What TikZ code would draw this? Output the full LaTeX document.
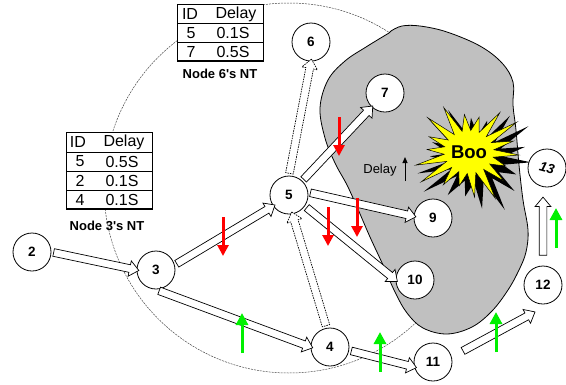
\documentclass[tikz,border=0pt]{standalone}
\usepackage{fontspec}
\setmainfont[Ligatures=TeXOff]{Liberation Sans}
\usetikzlibrary{calc,shapes.arrows,arrows.meta}
\definecolor{blobgray}{RGB}{192,192,192}
\definecolor{rarr}{RGB}{255,0,0}
\definecolor{garr}{RGB}{0,240,0}
\definecolor{booyellow}{RGB}{255,255,0}
\newcommand\barrow[3][]{\path let \p1=($(#3)-(#2)$), \n1={atan2(\y1,\x1)}, \n2={veclen(\x1,\y1)} in node[blockarr,#1,minimum height=\n2,rotate=\n1] at ($(#2)!0.5!(#3)$) {};}
\begin{document}
\begin{tikzpicture}[x=1pt,y=-1pt,
  nd/.style={circle,draw,fill=white,line width=0.8pt,minimum size=38pt,inner sep=0pt,font=\fontsize{13.5}{14}\selectfont\bfseries},
  blockarr/.style={single arrow,draw,fill=white,line width=0.7pt,inner xsep=0pt,inner ysep=3.5pt,
    single arrow head extend=4pt,single arrow tip angle=80,outer sep=0pt},
  dasharr/.style={dash pattern=on 1.5pt off 1pt},
  tabtxt/.style={font=\fontsize{16}{17}\selectfont,inner sep=0pt},
  captxt/.style={font=\fontsize{13}{14}\selectfont\bfseries,inner sep=0pt},
  redarrow/.style={draw=rarr,line width=3pt,-{Triangle[width=11pt,length=11pt]}},
  greenarrow/.style={draw=garr,line width=3pt,-{Triangle[width=12pt,length=12pt]}},
  declare function={rr(\i)=(mod(\i,2)==0)*(1+0.2*sin(\i*137))+(mod(\i,2)==1)*0.5;}
]
\useasboundingbox (0,0) rectangle (566,384);
\fill[white] (0,0) rectangle (566,384);
% dashed neighbourhood circle
\draw[gray!60!black,line width=0.5pt,dash pattern=on 2pt off 1pt] (289,188) circle[radius=185];
% gray region
\draw[fill=blobgray,line width=0.8pt] plot[smooth,tension=0.6] coordinates {(391,31) (402,26) (420,26) (447,32) (480,46) (502,63) (513,82) (513,105) (516,130) (519,165) (523,200) (528,230) (526,252) (519,270) (508,290) (492,311) (472,327) (447,334) (423,328) (407,313) (395,292) (383,265) (370,237) (357,207) (347,185) (335,163) (325,138) (320,108) (328,80) (345,61) (366,47) (389,33)} -- cycle;
% tables
\draw[fill=white,line width=0.8pt] (177,4) rectangle (263,61);
\draw[line width=0.8pt] (177,23) -- (263,23) (177,42) -- (263,42);
\draw[line width=2pt] (177,61) -- (263,61);
\node[tabtxt] at (190,14) {ID};
\node[tabtxt] at (236,14) {Delay};
\node[tabtxt] at (191,33) {5};
\node[tabtxt] at (233,33) {0.1S};
\node[tabtxt] at (191,52) {7};
\node[tabtxt] at (233,52) {0.5S};
\node[captxt] at (220,74) {Node 6's NT};
\draw[fill=white,line width=0.8pt] (66,132) rectangle (152,209);
\draw[line width=0.8pt] (66,152) -- (152,152) (66,171) -- (152,171) (66,190) -- (152,190);
\draw[line width=2pt] (66,209) -- (152,209);
\node[tabtxt] at (78,142) {ID};
\node[tabtxt] at (124,142) {Delay};
\node[tabtxt] at (80,161.5) {5};
\node[tabtxt] at (122,161.5) {0.5S};
\node[tabtxt] at (80,180.5) {2};
\node[tabtxt] at (122,180.5) {0.1S};
\node[tabtxt] at (80,199.5) {4};
\node[tabtxt] at (122,199.5) {0.1S};
\node[captxt] at (107,226) {Node 3's NT};
% starburst
\coordinate (boo) at (469,152);
\fill[black] plot[samples at={0,...,35},variable=\i] ({476+1.1*rr(\i)*50*cos(\i*10+4)},{159+1.1*rr(\i)*43*sin(\i*10+4)}) -- cycle;
\draw[fill=booyellow,line width=0.5pt] plot[samples at={0,...,35},variable=\i] ({469+rr(\i)*50*cos(\i*10+4)},{152+rr(\i)*43*sin(\i*10+4)}) -- cycle;
\node[font=\fontsize{18.5}{19}\selectfont\bfseries,inner sep=0pt] (bootxt) at (boo) {Boo};
% nodes
\node[nd] (n2) at (32,252) {2};
\node[nd] (n3) at (156,270) {3};
\node[nd] (n5) at (289,195) {5};
\node[nd] (n6) at (311,42) {6};
\node[nd] (n7) at (385,93) {7};
\node[nd] (n9) at (433,218) {9};
\node[nd] (n10) at (415,280) {10};
\node[nd] (n4) at (330,347) {4};
\node[nd] (n11) at (433,362) {11};
\node[nd] (n12) at (543,285) {12};
\node[nd,font=\fontsize{13.5}{14}\selectfont\bfseries\itshape] (n13) at (547,168) {\rotatebox{-15}{13}};
% free ends
\coordinate (s3) at (157,290);
\coordinate (s11) at (461,352);
\coordinate (e12) at (533,313);
\coordinate (s12) at ($(n12.north)+(0,-8)$);
\coordinate (e13) at ($(n13.south)+(-4,12)$);
% block arrows
\barrow{n2.east}{n3.west}
\barrow{n3.15}{n5.215}
\barrow{s3}{n4.west}
\barrow[dasharr]{n5.north}{n6.south}
\barrow{$(n5)!19pt!(n7)$}{$(n7)!20pt!(n5)$}
\barrow{n5.8}{n9.175}
\barrow{n5.-35}{n10.west}
\barrow[dasharr]{n4.100}{n5.-80}
\barrow{n4.-10}{n11.195}
\barrow{s11}{e12}
\barrow{s12}{e13}
% red and green arrows
\draw[redarrow] (223,217) -- (223,256);
\draw[redarrow] (339,117) -- (339,156);
\draw[redarrow] (328,207) -- (328,246);
\draw[redarrow] (357,198) -- (357,237);
\draw[greenarrow] (242,353) -- (242,313);
\draw[greenarrow] (380,372) -- (380,332);
\draw[greenarrow] (496,352) -- (496,312);
\draw[greenarrow] (556,248) -- (556,208);
% delay label
\node[font=\fontsize{13}{14}\selectfont,inner sep=0pt] (dl) at (380,170) {Delay};
\draw[line width=1pt,-{Triangle[width=5pt,length=6pt]}] (405,181) -- (405,157);
\end{tikzpicture}
\end{document}
